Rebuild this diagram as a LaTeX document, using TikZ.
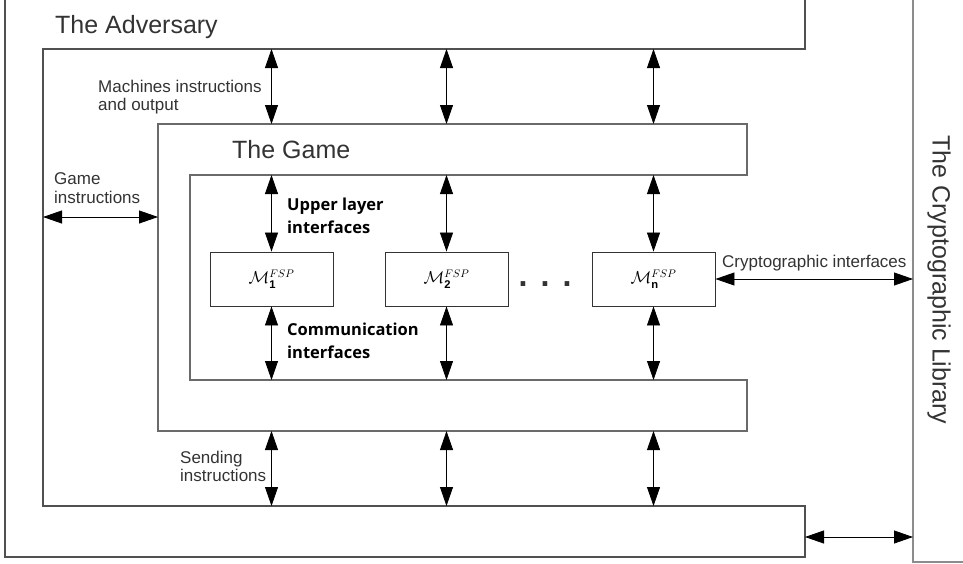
\documentclass[tikz,border=0pt]{standalone}
\usepackage{amsmath}
\usepackage{fontspec}
\setmainfont{Liberation Sans}
\newfontfamily\labelfont{Open Sans}
\newfontfamily\dotfont{DejaVu Sans}
\usetikzlibrary{arrows.meta}
\definecolor{textgray}{HTML}{333333}
\definecolor{linegray}{HTML}{505050}
\definecolor{libgray}{HTML}{8C8C8C}

\newcommand{\fsp}[1]{$\mathcal{M}^{FSP}_{\text{\bfseries #1}}$}

\begin{document}
\begin{tikzpicture}[x=1pt,y=-1pt]
\tikzstyle{advframe}=[draw=linegray, line width=1.2pt]
\tikzstyle{gameframe}=[draw=linegray!85, line width=1.2pt]
\tikzstyle{libframe}=[draw=libgray, line width=1.2pt]
\tikzstyle{machine}=[draw=black!80, line width=0.9pt, minimum width=123pt, minimum height=54pt, inner sep=0pt, font=\fontsize{16}{18}\selectfont]
\tikzstyle{biarrow}=[line width=0.8pt, {Triangle[length=19pt,width=13pt]}-{Triangle[length=19pt,width=13pt]}]
\tikzstyle{heading}=[anchor=base west, inner sep=0pt, text=textgray, font=\fontsize{25}{30}\selectfont]
\tikzstyle{lbl}=[anchor=north west, inner sep=0pt, align=left, text=textgray, font=\fontsize{17}{18.5}\selectfont]
\tikzstyle{boldlbl}=[anchor=north west, inner sep=0pt, align=left, font=\labelfont\bfseries\fontsize{16.5}{23}\selectfont]
\tikzstyle{dotlbl}=[anchor=base, inner sep=0pt, text=black!80, font=\dotfont\bfseries\fontsize{26}{30}\selectfont]

\useasboundingbox (0,0) rectangle (963,563);

% the adversary
\draw[advframe] (5,0) -- (5,557) -- (805,557) -- (805,506) -- (43,506) -- (43,49) -- (805,49) -- (805,0);
% the game
\draw[gameframe] (158,124) -- (747,124) -- (747,175) -- (190,175) -- (190,380) -- (747,380) -- (747,431) -- (158,431) -- cycle;
% the library
\draw[libframe] (913,0) -- (913,562) -- (963,562);

\coordinate (adv top) at (0,49);
\coordinate (game top) at (0,124);
\coordinate (game in top) at (0,175);
\coordinate (game in bot) at (0,380);
\coordinate (game bot) at (0,431);
\coordinate (adv bot) at (0,506);
\coordinate (adv in) at (43,217);
\coordinate (game in) at (158,217);
\coordinate (adv out) at (805,537);
\coordinate (lib in) at (913,537);

% the machines
\node[machine] (m1) at (271.5,279) {\fsp{1}};
\node[machine] (m2) at (446.5,279) {\fsp{2}};
\node[machine] (mn) at (653.5,279) {\fsp{n}};
\node[dotlbl] (dots) at (545,286) {. . .};

% interfaces
\draw[biarrow] (m1 |- adv top) -- (m1 |- game top);
\draw[biarrow] (m1.north) -- (m1 |- game in top);
\draw[biarrow] (m1.south) -- (m1 |- game in bot);
\draw[biarrow] (m1 |- game bot) -- (m1 |- adv bot);

\draw[biarrow] (m2 |- adv top) -- (m2 |- game top);
\draw[biarrow] (m2.north) -- (m2 |- game in top);
\draw[biarrow] (m2.south) -- (m2 |- game in bot);
\draw[biarrow] (m2 |- game bot) -- (m2 |- adv bot);

\draw[biarrow] (mn |- adv top) -- (mn |- game top);
\draw[biarrow] (mn.north) -- (mn |- game in top);
\draw[biarrow] (mn.south) -- (mn |- game in bot);
\draw[biarrow] (mn |- game bot) -- (mn |- adv bot);

\draw[biarrow] (adv in) -- (game in);
\draw[biarrow] (mn.east) -- (mn.east -| lib in);
\draw[biarrow] (adv out) -- (lib in);

% labels
\node[heading] (adv label) at (55,33) {The Adversary};
\node[heading] (game label) at (232,158) {The Game};
\node[heading, rotate=-90, anchor=center] (lib label) at (939,280) {The Cryptographic Library};
\node[lbl] (mach instr) at (98,79.5) {Machines instructions\\and output};
\node[lbl] (game instr) at (54,172.5) {Game\\instructions};
\node[lbl] (send instr) at (180,450.5) {Sending\\instructions};
\node[lbl, anchor=base west] (crypto lbl) at (722,267) {Cryptographic interfaces};
\node[boldlbl] (upper lbl) at (287,198) {Upper layer\\interfaces};
\node[boldlbl] (comm lbl) at (287,323) {Communication\\interfaces};

\end{tikzpicture}
\end{document}
